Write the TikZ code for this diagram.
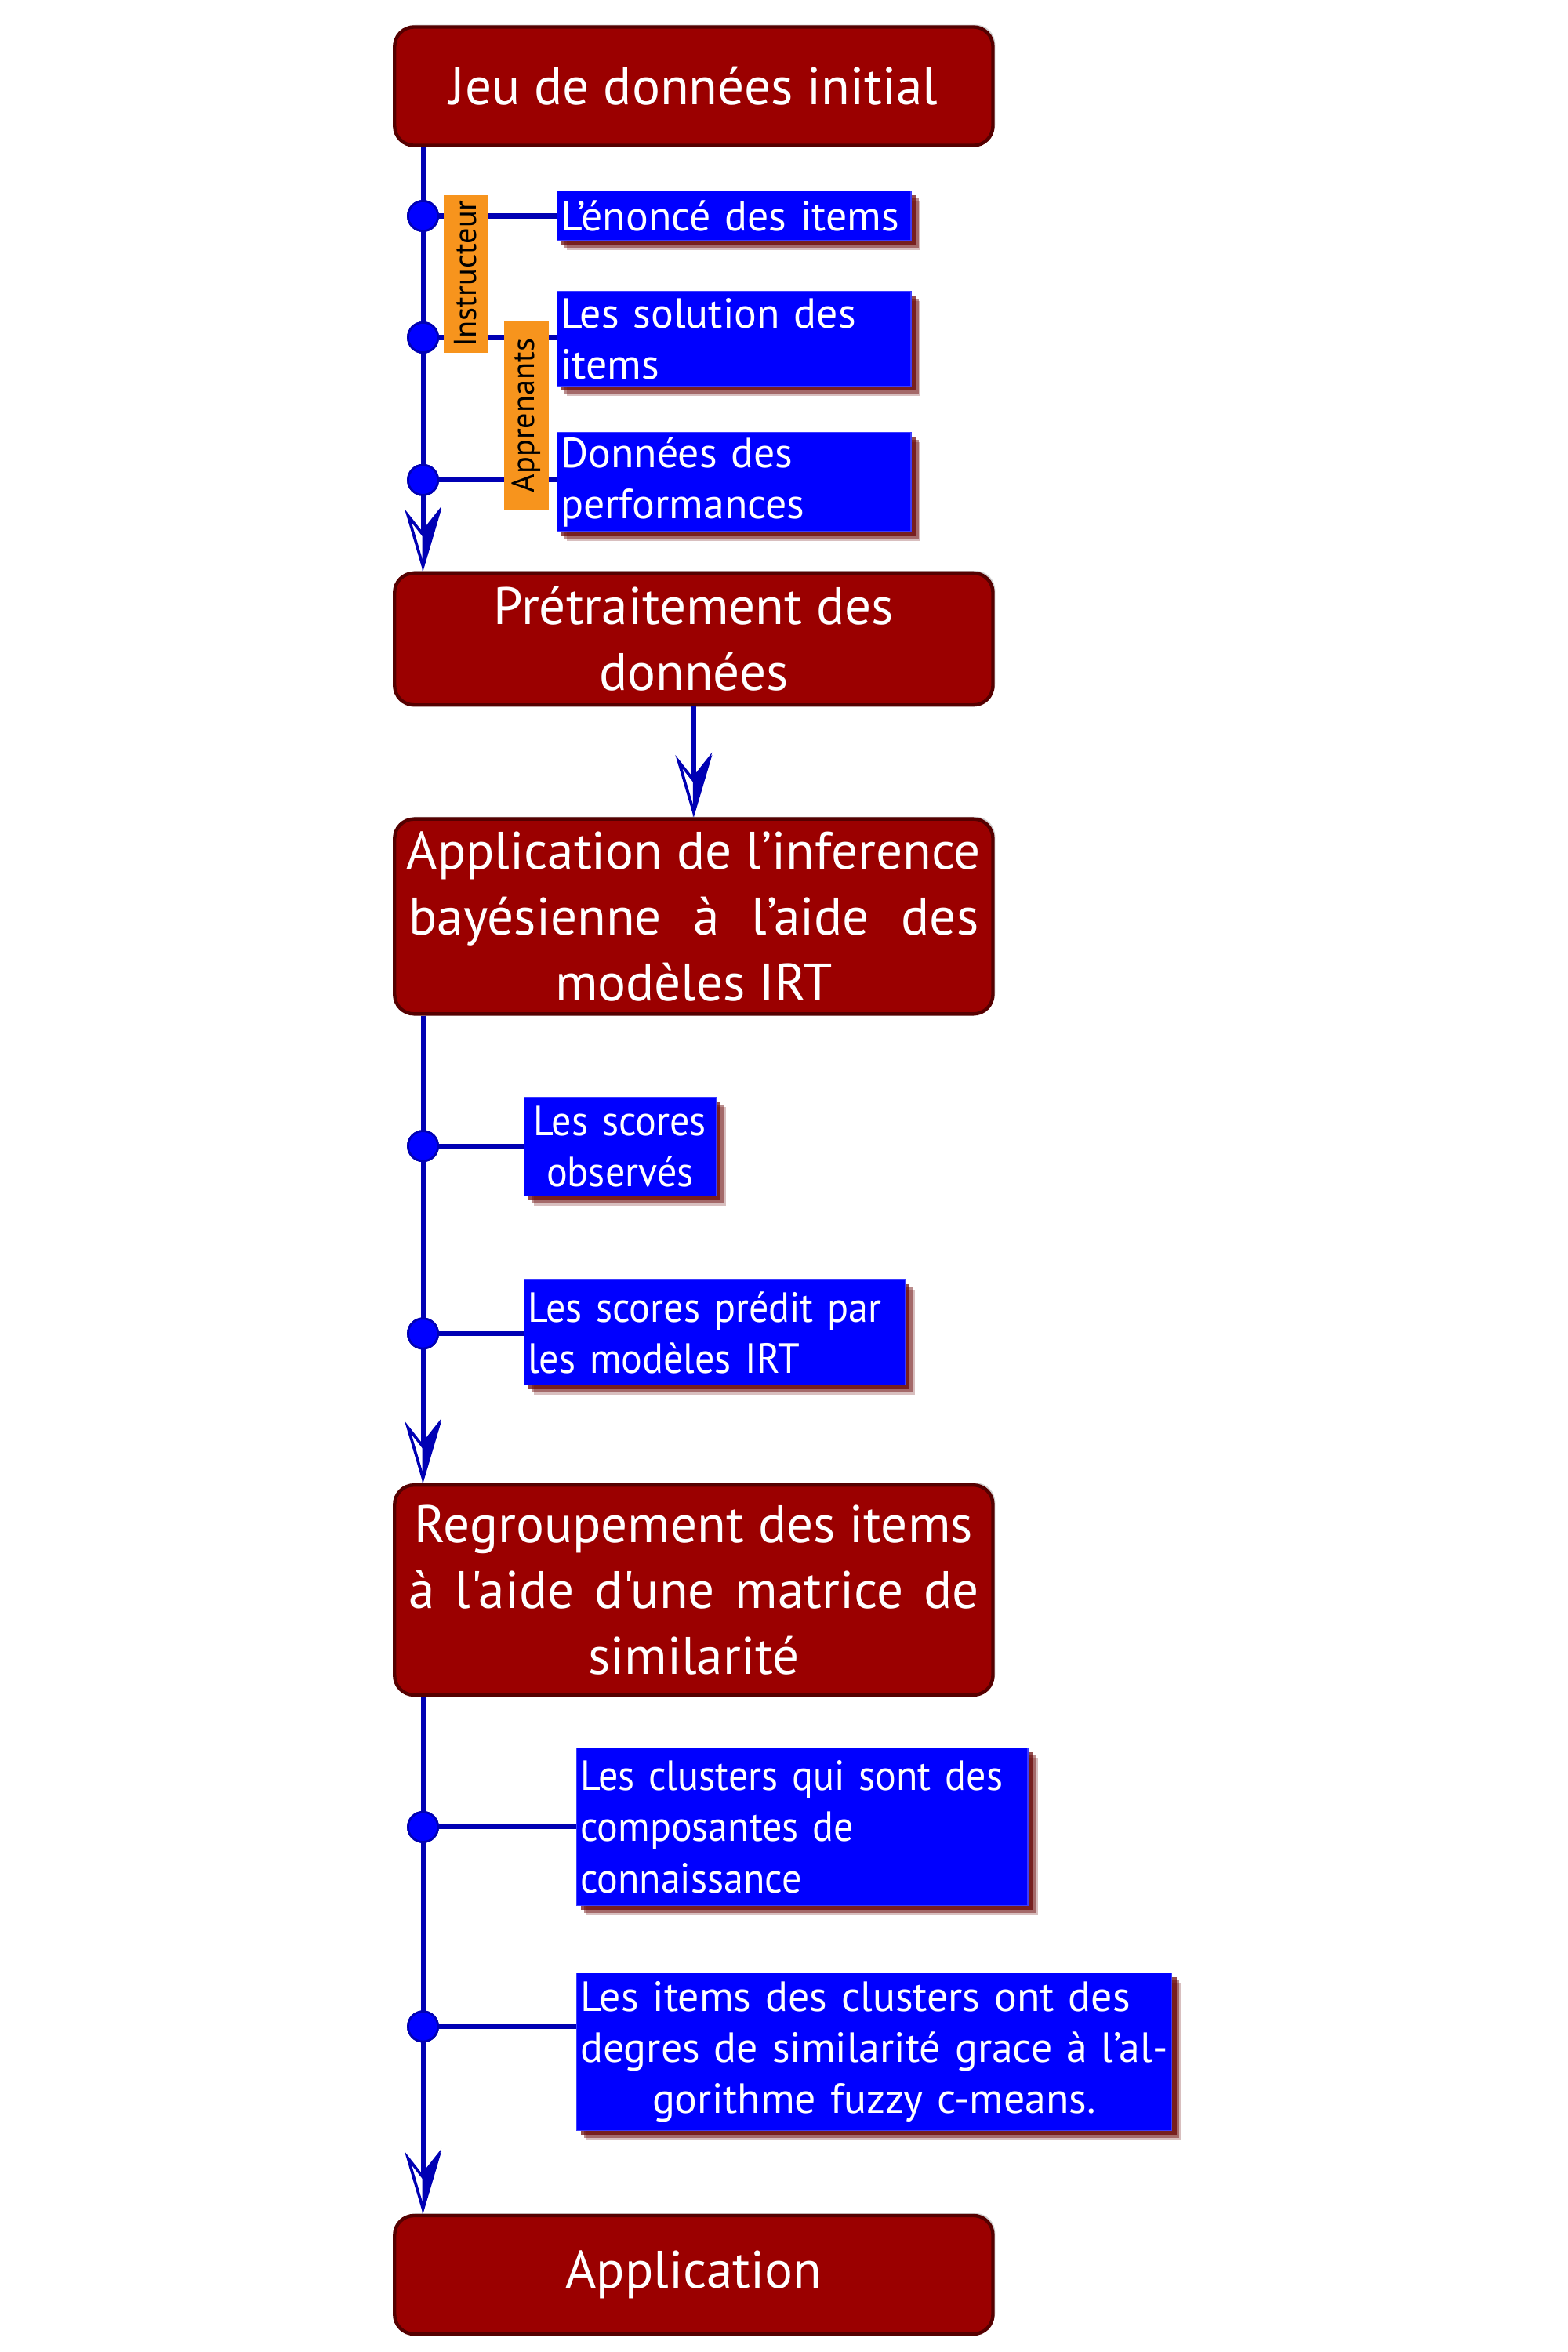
\documentclass[tikz,border=0pt]{standalone}
\usepackage{fontspec}
\newfontfamily\pts{PT Sans}
\newfontfamily\ptsc[FakeStretch=0.93]{PT Sans}
\usetikzlibrary{arrows.meta,shadows}
\definecolor{boxred}{RGB}{155,0,0}
\definecolor{boxredline}{RGB}{85,0,0}
\definecolor{itemblue}{RGB}{0,0,255}
\definecolor{itembline}{RGB}{60,60,255}
\definecolor{flowblue}{RGB}{0,0,180}
\definecolor{roleorange}{RGB}{247,148,29}
\definecolor{shadowred}{RGB}{100,0,0}
\tikzset{
  redbox/.style={draw=boxredline, line width=1.3pt, fill=boxred, rounded corners=0.26cm,
    minimum width=7.98cm, text=white, align=center, inner sep=0pt,
    font=\pts\fontsize{20}{25}\selectfont,
    drop shadow={fill=black!30, opacity=0.6, shadow xshift=0.03cm, shadow yshift=0.03cm}},
  itembox/.style={draw=itembline, line width=0.4pt, fill=itemblue, text=white, anchor=north west,
    inner xsep=0.05cm, inner ysep=0pt, align=left,
    font=\pts\fontsize{16}{19.4}\selectfont,
    drop shadow={fill=shadowred, opacity=0.25, shadow xshift=0.13cm, shadow yshift=-0.13cm},
    drop shadow={fill=shadowred, opacity=0.45, shadow xshift=0.1cm, shadow yshift=-0.1cm},
    drop shadow={fill=shadowred, opacity=0.7, shadow xshift=0.06cm, shadow yshift=-0.06cm}},
  rolebox/.style={fill=roleorange, inner sep=0pt, rotate=90, text=black,
    font=\pts\fontsize{12}{14}\selectfont},
  dot/.style={circle, draw=flowblue, line width=0.8pt, fill=itemblue, minimum width=0.36cm,
    minimum height=0.4cm, inner sep=0pt},
  conn/.style={draw=flowblue, line width=1.8pt},
  flow/.style={draw=flowblue, line width=1.8pt,
    -{Stealth[open, fill=white, length=0.83cm, width=0.49cm, inset=0.31cm, line width=1.1pt]}},
  flowhalf/.style={draw=flowblue, fill=flowblue, line width=1.8pt,
    -{Stealth[left, length=0.83cm, width=0.49cm, inset=0.31cm, line width=0.6pt]}},
}
\begin{document}
\begin{tikzpicture}[x=0.02cm, y=-0.02cm]
\useasboundingbox (0,0) rectangle (1045,1568);

% main boxes
\node[redbox, minimum height=1.58cm] (b1) at (462.5,57.5) {Jeu de données initial};
\node[redbox, minimum height=1.76cm] (b2) at (462.5,426) {Prétraitement des\\données};
\node[redbox, minimum height=2.6cm] (b3) at (462.5,611)
  {Application de l’inference\\\makebox[7.6cm][s]{bayésienne à l’aide des}\\modèles IRT};
\node[redbox, minimum height=2.8cm] (b4) at (462.5,1060)
  {Regroupement des items\\\makebox[7.6cm][s]{à l'aide d'une matrice de}\\similarité};
\node[redbox, minimum height=1.58cm] (b5) at (462.5,1516.5) {Application};

% dots
\node[dot] (d1) at (282,144) {};
\node[dot] (d2) at (282,225) {};
\node[dot] (d3) at (282,320) {};
\node[dot] (d4) at (282,764) {};
\node[dot] (d5) at (282,889) {};
\node[dot] (d6) at (282,1218) {};
\node[dot] (d7) at (282,1351) {};

% item boxes
\node[itembox, minimum width=4.72cm, minimum height=0.66cm, text width=4.62cm] (e1) at (371,127) {L’énoncé des items};
\node[itembox, minimum width=4.72cm, minimum height=1.26cm, text width=4.62cm] (e2) at (371,194) {Les solution des\\items};
\node[itembox, minimum width=4.72cm, minimum height=1.32cm, text width=4.62cm] (e3) at (371,288) {Données des\\performances};
\node[itembox, minimum width=2.56cm, minimum height=1.32cm, text width=2.46cm, align=center, font=\ptsc\fontsize{16}{19.4}\selectfont] (s1) at (349,731) {Les scores\\observés};
\node[itembox, minimum width=5.08cm, minimum height=1.4cm, text width=4.98cm, font=\ptsc\fontsize{16}{19.4}\selectfont] (s2) at (349,853) {Les scores prédit par\\les modèles IRT};
\node[itembox, minimum width=6.02cm, minimum height=2.1cm, text width=5.92cm, font=\ptsc\fontsize{16}{19.4}\selectfont] (c1) at (384,1165) {Les clusters qui sont des\\composantes de\\connaissance};
\node[itembox, minimum width=7.94cm, minimum height=2.1cm, text width=7.84cm, align=center] (c2) at (384,1315)
  {\makebox[7.84cm][s]{Les items des clusters ont des}\\\makebox[7.84cm][s]{degres de similarité grace à l’al-}\\gorithme fuzzy c-means.};

% vertical flows
\draw[flow] (b1.south -| d1) -- (b2.north -| d1);
\draw[flowhalf] (b1.south -| d1) -- (b2.north -| d1);
\draw[flow] (b2) -- (b3);
\draw[flowhalf] (b2) -- (b3);
\draw[flow] (b3.south -| d4) -- (b4.north -| d4);
\draw[flowhalf] (b3.south -| d4) -- (b4.north -| d4);
\draw[flow] (b4.south -| d6) -- (b5.north -| d6);
\draw[flowhalf] (b4.south -| d6) -- (b5.north -| d6);

% connectors
\draw[conn] (d1) -- (d1 -| e1.west);
\draw[conn] (d2) -- (d2 -| e2.west);
\draw[conn] (d3) -- (d3 -| e3.west);
\draw[conn] (d4) -- (d4 -| s1.west);
\draw[conn] (d5) -- (d5 -| s2.west);
\draw[conn] (d6) -- (d6 -| c1.west);
\draw[conn] (d7) -- (d7 -| c2.west);

% redraw dots on top
\foreach \d in {d1,d2,d3,d4,d5,d6,d7} \node[dot] at (\d) {};

% role labels
\node[rolebox, minimum width=2.1cm, minimum height=0.58cm] (r1) at (310.5,182.5) {Instructeur};
\node[rolebox, minimum width=2.52cm, minimum height=0.6cm] (r2) at (351,277) {Apprenants};
\end{tikzpicture}
\end{document}
